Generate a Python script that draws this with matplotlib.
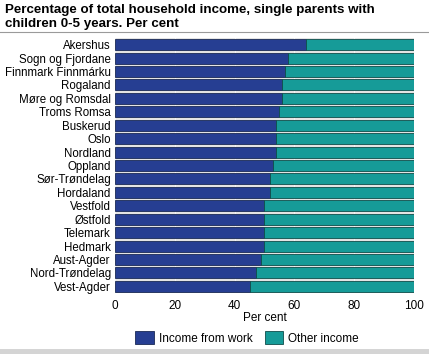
import numpy as np
import matplotlib.pyplot as plt
from matplotlib.patches import Patch

plt.rcParams['font.family'] = ['Liberation Sans', 'DejaVu Sans']

# counties, top to bottom as in the chart
counties = ['Akershus', 'Sogn og Fjordane', 'Finnmark Finnmárku', 'Rogaland',
            'Møre og Romsdal', 'Troms Romsa', 'Buskerud', 'Oslo', 'Nordland',
            'Oppland', 'Sør-Trøndelag', 'Hordaland', 'Vestfold', 'Østfold',
            'Telemark', 'Hedmark', 'Aust-Agder', 'Nord-Trøndelag', 'Vest-Agder']
work = [64, 58, 57, 56, 56, 55, 54, 54, 54, 53, 52, 52, 50, 50, 50, 50, 49, 47, 45]
other = [100 - w for w in work]
xticks = [0, 20, 40, 60, 80, 100]

blue = '#263e92'
teal = '#169b98'

fig = plt.figure(figsize=(4.29, 3.54), dpi=100)
ax = fig.add_axes([0.268, 0.172, 0.697, 0.721])
ax.set_facecolor('#e4e4e4')

y = np.arange(len(counties))
ax.barh(y, work, height=0.82, color=blue, edgecolor='#1a2a55', linewidth=0.6, zorder=3)
ax.barh(y, other, left=work, height=0.82, color=teal, edgecolor='#0f4d4a', linewidth=0.6, zorder=3)

ax.set_ylim(len(counties) - 0.5, -0.5)
ax.set_xlim(0, 100)
ax.set_yticks(y)
ax.set_yticklabels(counties, fontsize=8.3)
ax.set_xticks(xticks)
ax.set_xticklabels([str(t) for t in xticks], fontsize=8.5)
ax.tick_params(length=0, pad=3)
ax.tick_params(axis='x', pad=5)
ax.grid(axis='x', color='#f2f2f2', linewidth=0.8, zorder=0)
for s in ax.spines.values():
    s.set_visible(False)
ax.set_xlabel('Per cent', fontsize=8.5, labelpad=0)

# title and rules
fig.text(0.012, 0.988, 'Percentage of total household income, single parents with\nchildren 0-5 years. Per cent',
         fontsize=9.6, fontweight='bold', va='top', ha='left', linespacing=1.15)
fig.add_artist(plt.Line2D([0, 1], [0.91, 0.91], color='#9a9a9a', linewidth=0.8))
fig.add_artist(plt.Line2D([0, 1], [0.007, 0.007], color='#d4d4d4', linewidth=5))

handles = [Patch(facecolor=blue, edgecolor='#1a2a55', linewidth=0.6),
           Patch(facecolor=teal, edgecolor='#0f4d4a', linewidth=0.6)]
fig.legend(handles, ['Income from work', 'Other income'], loc='center',
           bbox_to_anchor=(0.576, 0.045), ncol=2, frameon=False, fontsize=8.5,
           handlelength=1.6, handleheight=1.3, handletextpad=0.4, columnspacing=1.0)

fig.savefig('out.png', dpi=100)
